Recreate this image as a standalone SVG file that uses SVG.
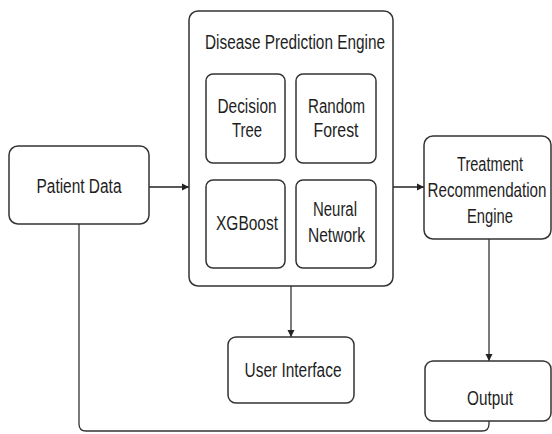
<svg xmlns="http://www.w3.org/2000/svg" width="552" height="434" viewBox="0 0 552 434">
  <defs>
    <marker id="arrow" markerWidth="8" markerHeight="8" refX="7" refY="4" orient="auto" markerUnits="userSpaceOnUse">
      <path d="M0,0.5 L7,4 L0,7.5 Z" fill="#222"/>
    </marker>
    <style>
      .box { fill: #fff; stroke: #333; stroke-width: 1.5; }
      .lbl { font-family: "Liberation Sans", Arial, sans-serif; font-size: 20px; fill: #1e1e1e; text-anchor: middle; }
      .edge { fill: none; stroke: #222; stroke-width: 1.5; }
      .thin { fill: none; stroke: #333; stroke-width: 1.3; }
    </style>
  </defs>
  <rect width="552" height="434" fill="#fff"/>

  <g id="connectors">
    <!-- Patient Data -> engine -->
    <line class="edge" x1="149" y1="187" x2="189" y2="187" marker-end="url(#arrow)"/>
    <!-- engine -> treatment -->
    <line class="edge" x1="393" y1="187" x2="424" y2="187" marker-end="url(#arrow)"/>
    <!-- engine -> user interface -->
    <line class="thin" x1="291" y1="286" x2="291" y2="337" marker-end="url(#arrow)"/>
    <!-- treatment -> output -->
    <line class="thin" x1="489" y1="239" x2="489" y2="361" marker-end="url(#arrow)"/>
    <!-- Patient Data -> output (bottom loop) -->
    <path class="thin" d="M79,224 V424 Q79,431 86,431 H482 Q489,431 489,424 V421"/>
    <!-- model links -->
    <line class="thin" x1="285" y1="116" x2="296" y2="116"/>
    <line class="thin" x1="285" y1="221" x2="296" y2="221"/>
    <line class="thin" x1="247" y1="163" x2="247" y2="180"/>
    <line class="thin" x1="337" y1="163" x2="337" y2="180"/>
  </g>

  <g id="patient-data">
    <rect class="box" x="9" y="146" width="140" height="78" rx="9"/>
    <text class="lbl" x="79" y="193" textLength="85" lengthAdjust="spacingAndGlyphs">Patient Data</text>
  </g>

  <g id="disease-prediction-engine">
    <rect class="box" x="189" y="11" width="204" height="275" rx="9"/>
    <text class="lbl" x="295" y="49" textLength="180" lengthAdjust="spacingAndGlyphs">Disease Prediction Engine</text>
  </g>

  <g id="decision-tree">
    <rect class="box" x="206" y="74" width="79" height="89" rx="7"/>
    <text class="lbl" x="247" y="113" textLength="59" lengthAdjust="spacingAndGlyphs">Decision</text>
    <text class="lbl" x="247" y="137" textLength="30" lengthAdjust="spacingAndGlyphs">Tree</text>
  </g>

  <g id="random-forest">
    <rect class="box" x="296" y="74" width="80" height="89" rx="7"/>
    <text class="lbl" x="336.5" y="113" textLength="57" lengthAdjust="spacingAndGlyphs">Random</text>
    <text class="lbl" x="336" y="137" textLength="45" lengthAdjust="spacingAndGlyphs">Forest</text>
  </g>

  <g id="xgboost">
    <rect class="box" x="206" y="180" width="79" height="88" rx="7"/>
    <text class="lbl" x="247" y="230" textLength="62" lengthAdjust="spacingAndGlyphs">XGBoost</text>
  </g>

  <g id="neural-network">
    <rect class="box" x="296" y="180" width="80" height="88" rx="7"/>
    <text class="lbl" x="335" y="216" textLength="44" lengthAdjust="spacingAndGlyphs">Neural</text>
    <text class="lbl" x="336.5" y="242" textLength="57" lengthAdjust="spacingAndGlyphs">Network</text>
  </g>

  <g id="treatment-engine">
    <rect class="box" x="424" y="136" width="127" height="103" rx="9"/>
    <text class="lbl" x="490" y="171" textLength="66" lengthAdjust="spacingAndGlyphs">Treatment</text>
    <text class="lbl" transform="translate(487,197) scale(0.76,1)">Recommendation</text>
    <text class="lbl" x="490" y="223" textLength="46" lengthAdjust="spacingAndGlyphs">Engine</text>
  </g>

  <g id="user-interface">
    <rect class="box" x="228" y="337" width="126" height="66" rx="8"/>
    <text class="lbl" x="293" y="377" textLength="97" lengthAdjust="spacingAndGlyphs">User Interface</text>
  </g>

  <g id="output">
    <rect class="box" x="425" y="361" width="126" height="60" rx="8"/>
    <text class="lbl" x="490" y="405" textLength="46" lengthAdjust="spacingAndGlyphs">Output</text>
  </g>
</svg>
